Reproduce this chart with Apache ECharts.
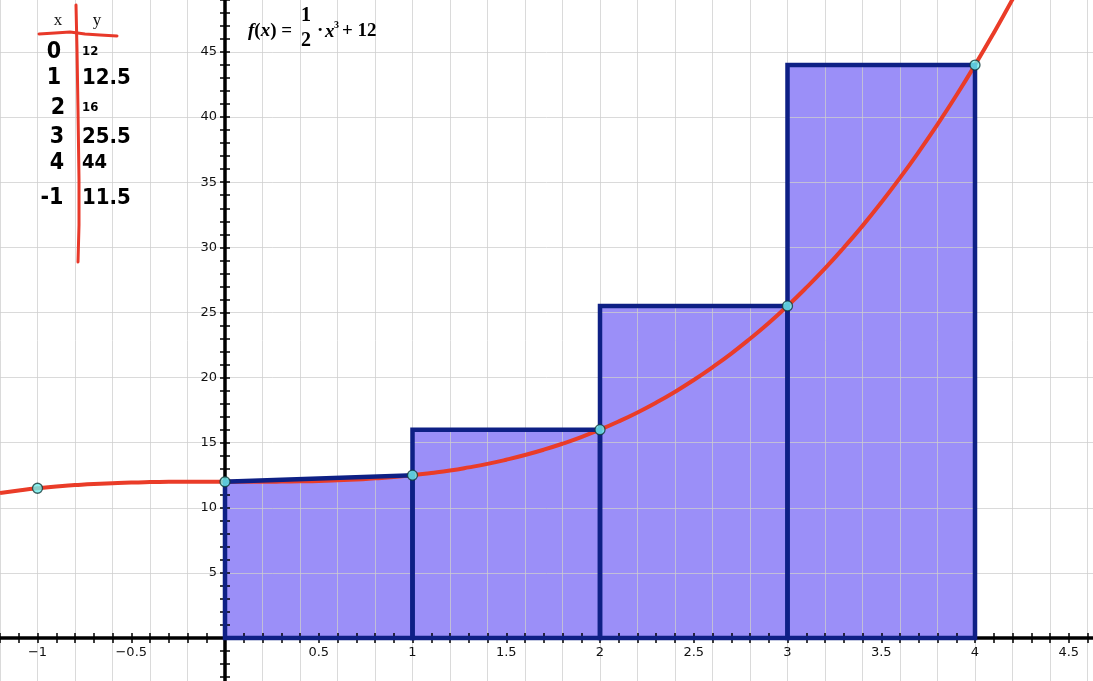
<!DOCTYPE html>
<html><head><meta charset="utf-8">
<script src="https://cdn.jsdelivr.net/npm/echarts@6/dist/echarts.min.js"></script>
<style>html,body{margin:0;padding:0;background:#fff;overflow:hidden}#c{width:1093px;height:681px}</style>
</head><body><div id="c"></div>
<script>
// curve f(x) = 1/2 x^3 + 12
const curveX = [-1.2,-1.1,-1.0,-0.9,-0.8,-0.7,-0.6,-0.5,-0.4,-0.3,-0.2,-0.1,0,0.1,0.2,0.3,0.4,0.5,0.6,0.7,0.8,0.9,1.0,1.1,1.2,1.3,1.4,1.5,1.6,1.7,1.8,1.9,2.0,2.1,2.2,2.3,2.4,2.5,2.6,2.7,2.8,2.9,3.0,3.1,3.2,3.3,3.4,3.5,3.6,3.7,3.8,3.9,4.0,4.1,4.2,4.3];
const curveY = [11.14,11.33,11.5,11.64,11.74,11.83,11.89,11.94,11.97,11.99,12.0,12.0,12,12.0,12.0,12.01,12.03,12.06,12.11,12.17,12.26,12.36,12.5,12.67,12.86,13.1,13.37,13.69,14.05,14.46,14.92,15.43,16,16.63,17.32,18.08,18.91,19.81,20.79,21.84,22.98,24.19,25.5,26.9,28.38,29.97,31.65,33.44,35.33,37.33,39.44,41.66,44,46.46,49.04,51.75];
const pointX = [-1,0,1,2,3,4];
const pointY = [11.5,12,12.5,16,25.5,44];
const rectLeft = [0,1,2,3];
const rectRight = [1,2,3,4];
const rectTopLeft = [12,16,25.5,44];
const rectTopRight = [12.5,16,25.5,44];
const xTickLabels = [-1,-0.5,0.5,1,1.5,2,2.5,3,3.5,4,4.5];
const yTickLabels = [5,10,15,20,25,30,35,40,45];
const tableX = ['0','1','2','3','4','-1'];
const tableY = ['12','12.5','16','25.5','44','11.5'];

const X_MIN = -2, X_MAX = 5, Y_MIN = -5, Y_MAX = 50;
function hasVal(list, v){ return list.some(t => Math.abs(t - v) < 1e-6); }
function fmtNum(v){ const a = Math.abs(+(+v).toFixed(3)); return (v < 0 ? '\u2212' : '') + a; }

const chart = echarts.init(document.getElementById('c'), null, {renderer:'canvas'});
const rectData = rectLeft.map((l,i) => [l, rectRight[i], rectTopLeft[i], rectTopRight[i]]);
const curveData = curveX.map((x,i) => [x, curveY[i]]);
const pointData = pointX.map((x,i) => [x, pointY[i]]);

function rectShape(api){
  const l = api.value(0), r = api.value(1), tl = api.value(2), tr = api.value(3);
  return [api.coord([l,0]), api.coord([l,tl]), api.coord([r,tr]), api.coord([r,0])];
}

const tickStyle = {color:'#000', width:1.5};
const font = '"DejaVu Sans", Verdana, sans-serif';
const gridLine = {color:'rgba(205,205,205,0.75)', width:1};
const hidden = {show:false};

const hw = '"DejaVu Sans Condensed", "DejaVu Sans", sans-serif';
const rowY = [52, 78, 108, 137, 163, 198];
const colXc = [54, 54, 58, 57, 57, 52];
const rightSize = [13, 22, 13, 22, 20, 22];
const graphics = [];
// hand-drawn table
graphics.push({type:'text', x:58, y:21, z:100, style:{text:'x', font:'17px "Liberation Serif", serif', fill:'#111', align:'center', verticalAlign:'middle'}});
graphics.push({type:'text', x:97, y:21, z:100, style:{text:'y', font:'17px "Liberation Serif", serif', fill:'#111', align:'center', verticalAlign:'middle'}});
graphics.push({type:'polyline', z:100, shape:{points:[[39,34],[55,33],[70,32],[85,34],[100,35],[117,36]]}, style:{stroke:'#e8392a', lineWidth:3, fill:null, lineCap:'round', lineJoin:'round'}});
graphics.push({type:'polyline', z:100, shape:{points:[[76,5],[77,50],[78,110],[79,180],[79,225],[78,262]]}, style:{stroke:'#e8392a', lineWidth:3, fill:null, lineCap:'round', lineJoin:'round'}});
tableX.forEach((t,i) => {
  graphics.push({type:'text', x:colXc[i], y:rowY[i], z:100, style:{text:t, font:'bold 23px ' + hw, fill:'#000', align:'center', verticalAlign:'middle'}});
  graphics.push({type:'text', x:82, y:rowY[i], z:100, style:{text:tableY[i], font:'bold ' + rightSize[i] + 'px ' + hw, fill:'#000', align:'left', verticalAlign:'middle'}});
});
// formula
const serif = '"Liberation Serif", "Times New Roman", serif';
graphics.push({type:'text', x:248, y:31, z:100, style:{text:'{i|f}{n|(}{i|x}{n|) =}', rich:{i:{font:'italic bold 19px ' + serif, fill:'#000'}, n:{font:'bold 19px ' + serif, fill:'#000'}}, verticalAlign:'middle', align:'left'}});
graphics.push({type:'text', x:306, y:16, z:100, style:{text:'1', font:'bold 20px ' + serif, fill:'#000', align:'center', verticalAlign:'middle'}});
graphics.push({type:'text', x:306, y:41, z:100, style:{text:'2', font:'bold 20px ' + serif, fill:'#000', align:'center', verticalAlign:'middle'}});
graphics.push({type:'text', x:317, y:31, z:100, style:{text:'\u00b7', font:'bold 19px ' + serif, fill:'#000', align:'left', verticalAlign:'middle'}});
graphics.push({type:'text', x:325, y:32, z:100, style:{text:'x', font:'italic bold 19px ' + serif, fill:'#000', align:'left', verticalAlign:'middle'}});
graphics.push({type:'text', x:334, y:25, z:100, style:{text:'3', font:'bold 10px ' + serif, fill:'#000', align:'left', verticalAlign:'middle'}});
graphics.push({type:'text', x:342, y:31, z:100, style:{text:'+ 12', font:'bold 19px ' + serif, fill:'#000', align:'left', verticalAlign:'middle'}});

const option = {
  animation: false,
  backgroundColor: '#fff',
  grid: [
    {left:-150, right:-69.5, top:-13.1, bottom:-22.1, containLabel:false, outerBoundsMode:'none'},
    {left:-150, right:-69.5, top:-13.1, bottom:43, containLabel:false, outerBoundsMode:'none'},
    {left:225, right:-69.5, top:-13.1, bottom:-22.1, containLabel:false, outerBoundsMode:'none'}
  ],
  xAxis: [
    {type:'value', gridIndex:0, position:'bottom', min:X_MIN, max:X_MAX, interval:0.2, z:1.5,
     axisLine:{show:false, onZero:false}, axisTick:hidden, axisLabel:hidden,
     splitLine:{show:true, lineStyle:gridLine}},
    {type:'value', gridIndex:1, position:'bottom', min:X_MIN, max:X_MAX, interval:0.1, z:3,
     axisLine:{show:true, onZero:false, lineStyle:{color:'#000', width:3.5}},
     axisTick:{show:true, inside:false, length:5, lineStyle:tickStyle},
     axisLabel:{show:true, margin:8, color:'#111', fontSize:13, fontFamily:font, hideOverlap:false,
       formatter: v => hasVal(xTickLabels, v) ? fmtNum(v) : ''},
     splitLine:hidden},
    {type:'value', gridIndex:1, position:'bottom', min:X_MIN, max:X_MAX, interval:0.1, z:3,
     axisLine:{show:false, onZero:false},
     axisTick:{show:true, inside:true, length:5, lineStyle:tickStyle},
     axisLabel:hidden, splitLine:hidden},
    {type:'value', gridIndex:2, show:false, min:0, max:5}
  ],
  yAxis: [
    {type:'value', gridIndex:0, position:'left', min:Y_MIN, max:Y_MAX, interval:5, z:1.5,
     axisLine:{show:false, onZero:false}, axisTick:hidden, axisLabel:hidden,
     splitLine:{show:true, lineStyle:gridLine}},
    {type:'value', gridIndex:2, position:'left', min:Y_MIN, max:Y_MAX, interval:1, z:3,
     axisLine:{show:true, onZero:false, lineStyle:{color:'#000', width:3.5}},
     axisTick:{show:true, inside:false, length:5, lineStyle:tickStyle},
     axisLabel:{show:true, margin:8, color:'#111', fontSize:13, fontFamily:font, hideOverlap:false,
       formatter: v => hasVal(yTickLabels, v) ? fmtNum(v) : ''},
     splitLine:hidden},
    {type:'value', gridIndex:2, position:'left', min:Y_MIN, max:Y_MAX, interval:1, z:3,
     axisLine:{show:false, onZero:false},
     axisTick:{show:true, inside:true, length:5, lineStyle:tickStyle},
     axisLabel:hidden, splitLine:hidden},
    {type:'value', gridIndex:1, show:false, min:0, max:50}
  ],
  series: [
    {type:'custom', name:'fill', z:1, xAxisIndex:0, yAxisIndex:0, data:rectData, encode:{x:[0,1], y:[2,3]}, silent:true,
     renderItem:(params, api) => ({type:'polygon', shape:{points:rectShape(api)}, style:{fill:'#9b8ff8', stroke:null}})},
    {type:'line', name:'curve', z:3.5, xAxisIndex:0, yAxisIndex:0, data:curveData, smooth:true, showSymbol:false, symbol:'none',
     lineStyle:{color:'#ea3c28', width:4}, itemStyle:{color:'#ea3c28'}},
    {type:'custom', name:'outline', z:4, xAxisIndex:0, yAxisIndex:0, data:rectData, encode:{x:[0,1], y:[2,3]}, silent:true,
     renderItem:(params, api) => ({type:'polygon', shape:{points:rectShape(api)}, style:{fill:null, stroke:'#0e2085', lineWidth:4.5, lineJoin:'miter'}})},
    {type:'scatter', name:'points', z:6, xAxisIndex:0, yAxisIndex:0, data:pointData, symbol:'circle', symbolSize:10,
     itemStyle:{color:'#72f2f0', borderColor:'#123838', borderWidth:1.3}}
  ],
  graphic: graphics
};
chart.setOption(option);
</script></body></html>
